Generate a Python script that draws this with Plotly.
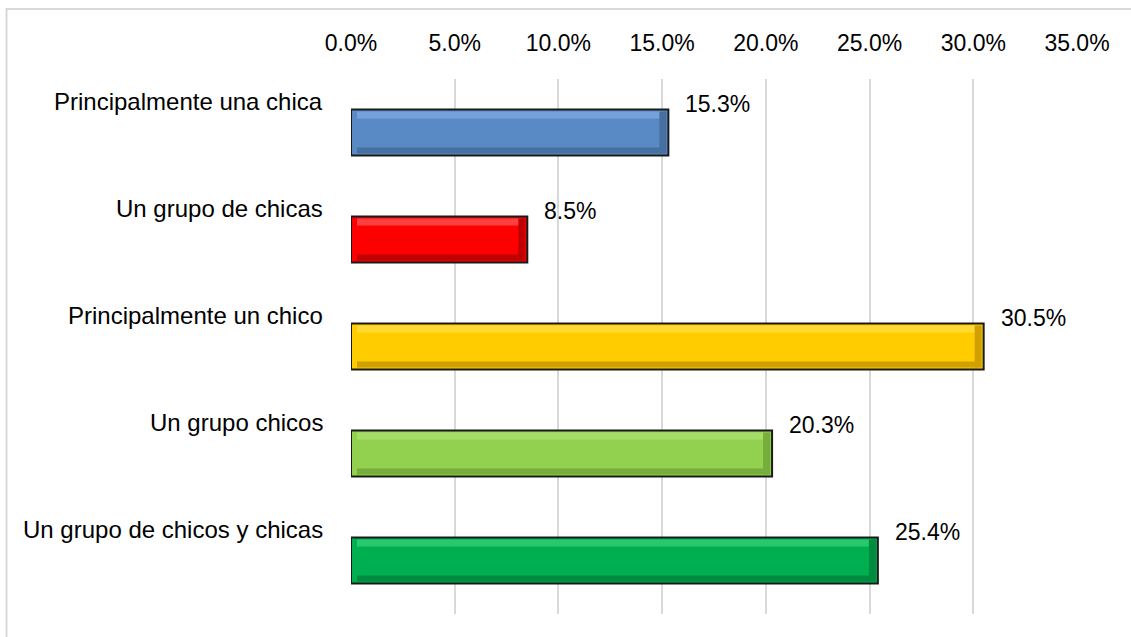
import plotly.graph_objects as go

categories = ["Principalmente una chica", "Un grupo de chicas", "Principalmente un chico",
              "Un grupo chicos", "Un grupo de chicos y chicas"]
values = [15.3, 8.5, 30.5, 20.3, 25.4]
colors = ["#5A8AC6", "#FF0000", "#FFCC00", "#92D050", "#00B050"]
light_colors = ["#75A0DA", "#FF4040", "#FFDA33", "#A6DC68", "#28C86C"]
dark_colors = ["#46709F", "#C00000", "#D0A000", "#77AD3A", "#008A40"]
tick_vals = [0, 5, 10, 15, 20, 25, 30, 35]

FONT = "Liberation Sans, Arial, sans-serif"
BAR_W = 0.43
PX = 1.0 / 107.0      # one pixel in category units
XPX = 35.0 / 726.0    # one pixel in value units

fig = go.Figure()
fig.add_trace(go.Bar(
    y=categories, x=values, orientation="h",
    marker=dict(color=colors, line=dict(color="#1a1a1a", width=2)),
    width=BAR_W, offset=-BAR_W / 2, hoverinfo="skip", showlegend=False,
))
# bevel highlight (top), shadow (bottom) and right-end shade
inset = 2 * XPX
fig.add_trace(go.Bar(
    y=categories, x=[v - 2 * inset - 8 * XPX for v in values], base=inset + 4 * XPX, orientation="h",
    marker=dict(color=light_colors, line=dict(width=0)),
    width=7 * PX, offset=-BAR_W / 2 + 2 * PX, hoverinfo="skip", showlegend=False,
))
fig.add_trace(go.Bar(
    y=categories, x=[v - 2 * inset - 8 * XPX for v in values], base=inset + 4 * XPX, orientation="h",
    marker=dict(color=dark_colors, line=dict(width=0)),
    width=6 * PX, offset=BAR_W / 2 - 8 * PX, hoverinfo="skip", showlegend=False,
))
fig.add_trace(go.Bar(
    y=categories, x=[7 * XPX] * len(values), base=[v - 9 * XPX for v in values], orientation="h",
    marker=dict(color=dark_colors, line=dict(width=0)),
    width=BAR_W - 4 * PX, offset=-BAR_W / 2 + 2 * PX, hoverinfo="skip", showlegend=False,
))

annotations = []
for c, v in zip(categories, values):
    annotations.append(dict(x=v, y=c, xref="x", yref="y", text=f"{v:.1f}%", showarrow=False,
                            xanchor="left", yanchor="middle", xshift=15, yshift=29,
                            font=dict(family=FONT, size=23, color="#000000")))
    annotations.append(dict(x=0, y=c, xref="paper", yref="y", text=c, showarrow=False,
                            xanchor="right", yanchor="middle", xshift=-26, yshift=31,
                            font=dict(family=FONT, size=24, color="#000000")))

fig.update_layout(
    width=1131, height=637,
    margin=dict(l=351, r=54, t=79, b=23, autoexpand=False),
    paper_bgcolor="white", plot_bgcolor="white",
    barmode="overlay",
    font=dict(family=FONT, size=23, color="#000000"),
    annotations=annotations,
    shapes=[dict(type="rect", xref="paper", yref="paper", x0=-0.4745, x1=1.2, y0=-0.2, y1=1.1308,
                 line=dict(color="#D9D9D9", width=2), fillcolor="rgba(0,0,0,0)", layer="below")],
    xaxis=dict(side="top", range=[0, 35], tickvals=tick_vals,
               ticktext=[f"{t:.1f}%" for t in tick_vals],
               showgrid=True, gridcolor="#D9D9D9", gridwidth=1.5, zeroline=False,
               showline=False, ticks="", ticklabelstandoff=22,
               tickfont=dict(family=FONT, size=23, color="#000000")),
    yaxis=dict(categoryorder="array", categoryarray=categories, autorange="reversed",
               showticklabels=False, showgrid=False, zeroline=False, showline=False, ticks=""),
)

fig.write_html("out.html", config={"displayModeBar": False},
               post_script="document.body.style.margin='0px';")
